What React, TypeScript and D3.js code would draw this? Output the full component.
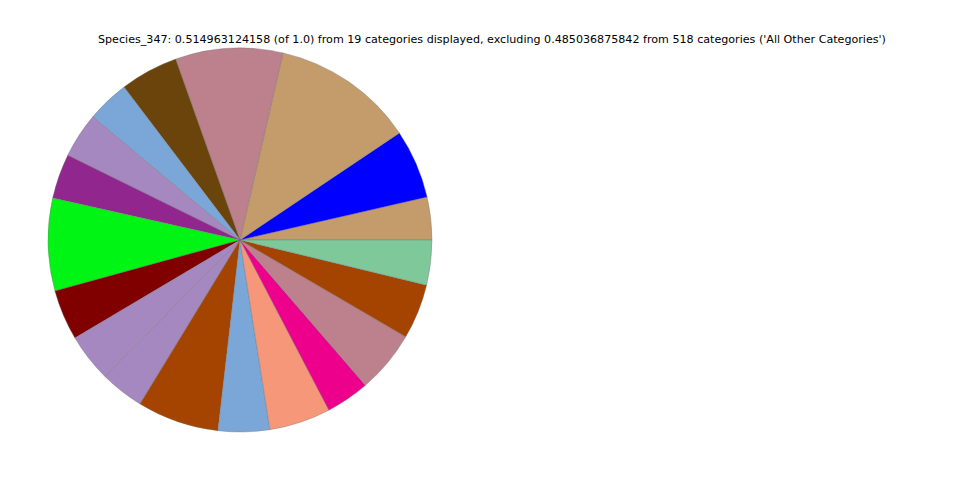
import React from "react";
import * as d3 from "d3";

const TITLE =
  "Species_347: 0.514963124158 (of 1.0) from 19 categories displayed, excluding 0.485036875842 from 518 categories ('All Other Categories')";

const categories = [
  "Cat_01", "Cat_02", "Cat_03", "Cat_04", "Cat_05", "Cat_06", "Cat_07", "Cat_08", "Cat_09", "Cat_10",
  "Cat_11", "Cat_12", "Cat_13", "Cat_14", "Cat_15", "Cat_16", "Cat_17", "Cat_18", "Cat_19",
];

const values = [
  0.01852, 0.02997, 0.06172, 0.04656, 0.02518, 0.01845, 0.0196, 0.01945, 0.04005, 0.02189,
  0.02103, 0.01888, 0.03548, 0.02231, 0.02661, 0.01888, 0.02704, 0.02389, 0.01945,
];

const colors = [
  "#c49c6c", "#0000ff", "#c49c6c", "#bc818c", "#6b440c", "#7ba7d8", "#a588c0", "#90268e", "#00f514", "#800000",
  "#a588c0", "#a588c0", "#a54400", "#7ba7d8", "#f7977a", "#ec008c", "#bc818c", "#a54400", "#7ec89a",
];

export default function App() {
  const W = 960;
  const H = 480;
  const cx = 240;
  const cy = 240;
  const r = 192;

  const data = categories.map((c, i) => ({ c, v: values[i], color: colors[i] }));
  const pie = d3
    .pie<{ c: string; v: number; color: string }>()
    .value((d) => d.v)
    .sort(null)
    .startAngle(Math.PI / 2)
    .endAngle(Math.PI / 2 - 2 * Math.PI);
  const arc = d3.arc<d3.PieArcDatum<{ c: string; v: number; color: string }>>().innerRadius(0).outerRadius(r);
  const arcs = pie(data);

  return (
    <svg
      width={W}
      height={H}
      style={{ position: "absolute", left: 0, top: 0, background: "#fff" }}
    >
      <text
        x={492}
        y={43}
        textAnchor="middle"
        fontFamily="DejaVu Sans"
        fontSize={11.12}
        fill="#000"
      >
        {TITLE}
      </text>
      <g transform={`translate(${cx},${cy})`}>
        {arcs.map((a, i) => (
          <path
            key={i}
            d={arc(a) || ""}
            fill={a.data.color}
            stroke="#707070"
            strokeOpacity={0.6}
            strokeWidth={0.6}
          />
        ))}
      </g>
    </svg>
  );
}
